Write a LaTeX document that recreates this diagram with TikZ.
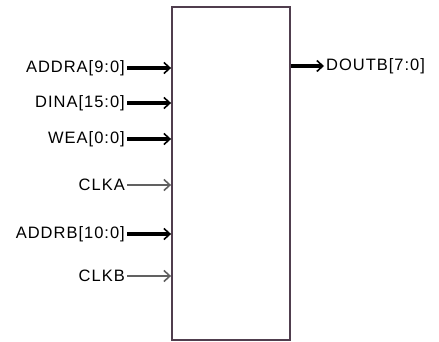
\documentclass[tikz,border=0pt]{standalone}
\usepackage{fontspec}
\setmainfont{Liberation Sans}[LetterSpace=6]
\usetikzlibrary{arrows.meta}
\definecolor{boxc}{RGB}{80,62,78}

\begin{document}
\begin{tikzpicture}[x=1pt, y=-1pt,
    >={Straight Barb[length=6pt, width=11pt, line width=1.6pt]},
    bus/.style={->, line width=4pt},
    clk/.style={->, line width=2pt, black!62},
    pin/.style={font=\fontsize{16.5}{19}\selectfont, inner sep=2pt}]
  \useasboundingbox (0,0) rectangle (439,342);
  \node[draw=boxc, line width=1.8pt, minimum width=118pt, minimum height=333pt] (blk) at (231,173.5) {};
  \foreach \y/\name/\lbl/\sty in {68/addra/ADDRA[9:0]/bus, 103/dina/DINA[15:0]/bus,
      139/wea/WEA[0:0]/bus, 185/clka/CLKA/clk, 234/addrb/ADDRB[10:0]/bus, 276/clkb/CLKB/clk} {
    \coordinate (\name in) at (blk.west |- 0,\y);
    \node[pin, anchor=east] (\name) at (127,\y) {\lbl};
    \draw[\sty] (\name) -- (\name in);
  }
  \coordinate (doutb out) at (blk.east |- 0,66);
  \node[pin, anchor=west] (doutb) at (324,66) {DOUTB[7:0]};
  \draw[bus] (doutb out) -- (doutb);
\end{tikzpicture}
\end{document}
